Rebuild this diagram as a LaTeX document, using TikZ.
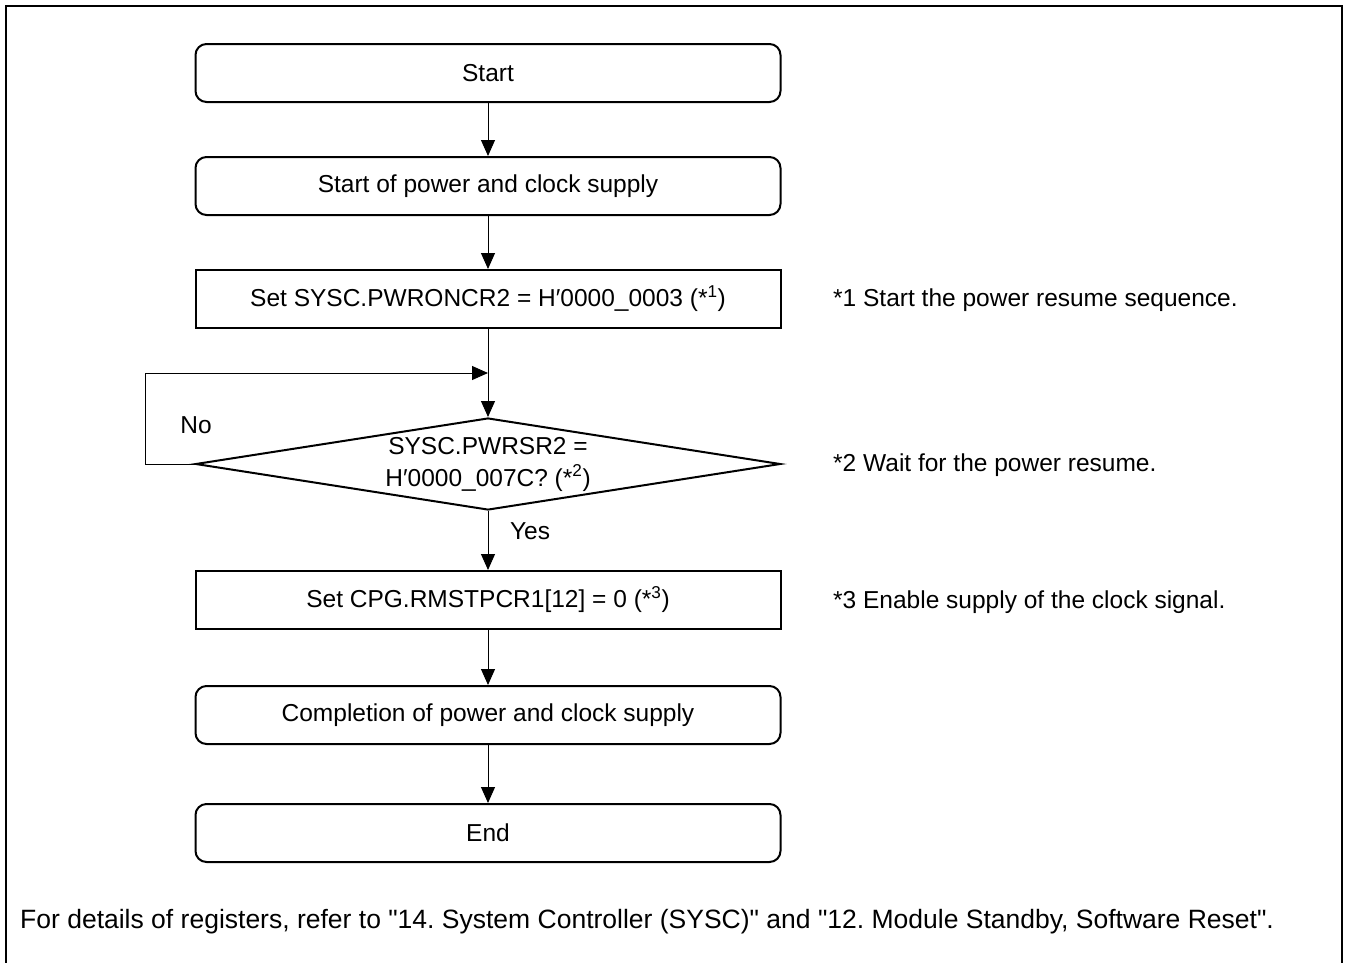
\documentclass[tikz,border=0pt]{standalone}
\usepackage{fontspec}
\setmainfont{Liberation Sans}
\usepackage{tikz}
\usetikzlibrary{arrows.meta, positioning, shapes.geometric}
\frenchspacing

\begin{document}
\begin{tikzpicture}[x=1pt, y=-1pt, node distance=113pt, on grid,
    font=\fontsize{24.5}{32}\selectfont,
    flowbox/.style={draw, line width=2pt, minimum width=585pt, minimum height=58pt, inner sep=0pt},
    terminal/.style={flowbox, rounded corners=11pt},
    decision/.style={draw, line width=2pt, diamond, aspect=6.36, minimum width=585pt, minimum height=92pt, inner sep=0pt, align=center},
    arr/.style={line width=1pt, -{Triangle[length=16pt, width=14pt]}},
    note/.style={anchor=west, inner sep=0pt}]
        \clip (0,0) rectangle (1346,962);
        \draw[line width=2pt] (6,6) rectangle (1342,990);

        \node[terminal] (start) at (488,73) {Start};
        \node[terminal] (supply) [below=of start] {Start of power and clock supply};
        \node[flowbox] (pwron) [below=of supply] {Set SYSC.PWRONCR2 = H′0000\_0003 (*\textsuperscript{1})};
        \node[decision] (check) [below=165pt of pwron] {SYSC.PWRSR2 =\\H′0000\_007C? (*\textsuperscript{2})};
        \node[flowbox] (rmstp) [below=136pt of check] {Set CPG.RMSTPCR1[12] = 0 (*\textsuperscript{3})};
        \node[terminal] (done) [below=115pt of rmstp] {Completion of power and clock supply};
        \node[terminal] (stop) [below=118pt of done] {End};

        \coordinate (loopin) at (488,373);

        % notes
        \node[note] (n1) at (833,300) {*1 Start the power resume sequence.};
        \node[note] (n2) at (833,465) {*2 Wait for the power resume.};
        \node[note] (n3) at (833,602) {*3 Enable supply of the clock signal.};
        \node (no) at (196,425) {No};
        \node (yes) at (530,531) {Yes};
        \node[note, font=\fontsize{26.5}{32}\selectfont] (foot) at (20,922) {For details of registers, refer to \textquotedbl14. System Controller (SYSC)\textquotedbl{} and \textquotedbl12. Module Standby, Software Reset\textquotedbl.};

        \draw[arr] (start) -- (supply);
        \draw[arr] (supply) -- (pwron);
        \draw[arr] (pwron) -- (check);
        \draw[arr] (check.west) -- ++(-49,0) |- (loopin);
        \draw[arr] (check) -- (rmstp);
        \draw[arr] (rmstp) -- (done);
        \draw[arr] (done) -- (stop);
\end{tikzpicture}
\end{document}
